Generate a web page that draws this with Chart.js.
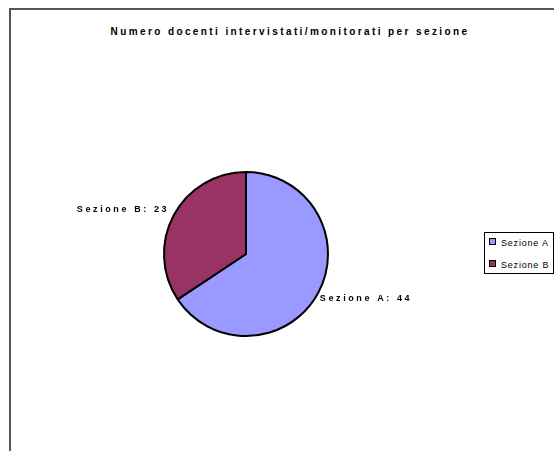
<!DOCTYPE html>
<html>
<head>
<meta charset="utf-8">
<script src="https://cdn.jsdelivr.net/npm/chart.js@4/dist/chart.umd.min.js"></script>
<style>
    body { margin: 0; width: 554px; height: 451px; overflow: hidden; background: #fff; font-family: "Liberation Sans", Arial, sans-serif; }
    #frame { position: absolute; left: 9px; top: 8px; width: 600px; height: 500px; border-left: 2px solid #555; border-top: 2px solid #555; }
    #chart { position: absolute; left: 0; top: 0; }
    #title { position: absolute; top: 26px; left: 0; width: 580px; text-align: center; font-weight: bold; font-size: 10px; letter-spacing: 2.4px; color: #000; }
    #legend { position: absolute; left: 484px; top: 232px; width: 68px; height: 40px; border: 1px solid #000; background: #fff; font-size: 9px; letter-spacing: 0.8px; }
    .item { position: absolute; left: 4px; white-space: nowrap; line-height: 11px; }
    .box { display: inline-block; width: 5px; height: 5px; border: 1px solid #000; margin-right: 5px; vertical-align: 1px; }
</style>
</head>
<body>
<div id="frame"></div>
<div id="title">Numero docenti intervistati/monitorati per sezione</div>
<canvas id="chart" width="554" height="451"></canvas>
<div id="legend"></div>
<script>
const sections = ['Sezione A', 'Sezione B'];
const counts = [44, 23];
const colors = ['#9999ff', '#993366'];

// Etichette delle fette: nome e valore, fuori dalla torta
const sliceLabels = {
    id: 'sliceLabels',
    afterDatasetsDraw(chart) {
        const ctx = chart.ctx;
        const meta = chart.getDatasetMeta(0);
        ctx.save();
        ctx.font = 'bold 9px "Liberation Sans", Arial, sans-serif';
        ctx.letterSpacing = '2.6px';
        ctx.fillStyle = '#000';
        ctx.textBaseline = 'middle';
        meta.data.forEach((arc, i) => {
            const mid = (arc.startAngle + arc.endAngle) / 2;
            const r = arc.outerRadius + 12;
            const x = arc.x + Math.cos(mid) * r;
            const y = arc.y + Math.sin(mid) * r;
            const right = Math.cos(mid) >= 0;
            ctx.textAlign = right ? 'left' : 'right';
            ctx.fillText(sections[i] + ': ' + counts[i], right ? x - 9 : x + 6, y);
        });
        ctx.restore();
    }
};

new Chart(document.getElementById('chart').getContext('2d'), {
    type: 'pie',
    data: {
        labels: sections,
        datasets: [{
            data: counts,
            backgroundColor: colors,
            borderColor: '#000',
            borderWidth: 2,
            radius: 82
        }]
    },
    options: {
        responsive: false,
        animation: false,
        layout: { padding: { left: 0, right: 62, top: 100, bottom: 43 } },
        plugins: { legend: { display: false }, tooltip: { enabled: false } }
    },
    plugins: [sliceLabels]
});

// Legenda costruita dagli stessi array
const legend = document.getElementById('legend');
sections.forEach((name, i) => {
    const item = document.createElement('div');
    item.className = 'item';
    item.style.top = (5 + i * 22) + 'px';
    item.innerHTML = '<span class="box" style="background:' + colors[i] + '"></span>' + name;
    legend.appendChild(item);
});
</script>
</body>
</html>
